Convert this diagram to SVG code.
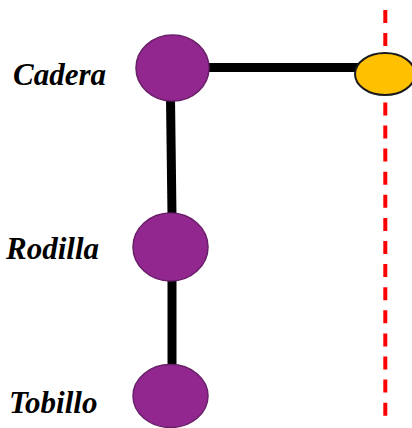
<svg xmlns="http://www.w3.org/2000/svg" width="412" height="428" viewBox="0 0 412 428">
  <style>
    .joint { fill: #91278f; stroke: #6a1f69; stroke-width: 1.5; }
    .bone { stroke: #000; stroke-width: 9; fill: none; }
    .label { font-family: "Liberation Serif", "Times New Roman", serif; font-weight: bold; font-style: italic; font-size: 31px; fill: #000; }
  </style>
  <rect width="412" height="428" fill="#fff"/>

  <!-- vertical reference line -->
  <line x1="385.3" y1="10" x2="385.3" y2="417" stroke="#ff0000" stroke-width="4" stroke-dasharray="13 10.1"/>

  <!-- connectors -->
  <g id="connectors">
    <line class="bone" x1="205" y1="67.5" x2="362" y2="67.5"/>
    <line class="bone" x1="170.5" y1="98" x2="172" y2="216"/>
    <line class="bone" x1="172" y1="278" x2="172" y2="368"/>
  </g>

  <g id="cadera">
    <ellipse class="joint" cx="172.5" cy="68" rx="36.5" ry="33"/>
    <text class="label" x="13" y="85" textLength="93">Cadera</text>
  </g>
  <g id="rodilla">
    <ellipse class="joint" cx="170.5" cy="247" rx="37.5" ry="34"/>
    <text class="label" x="6" y="259">Rodilla</text>
  </g>
  <g id="tobillo">
    <ellipse class="joint" cx="170.5" cy="396" rx="37.5" ry="31.5"/>
    <text class="label" x="9" y="413">Tobillo</text>
  </g>
  <g id="punto">
    <ellipse cx="385" cy="74" rx="30" ry="21" fill="#ffc000" stroke="#1a1a1a" stroke-width="2"/>
  </g>
</svg>
